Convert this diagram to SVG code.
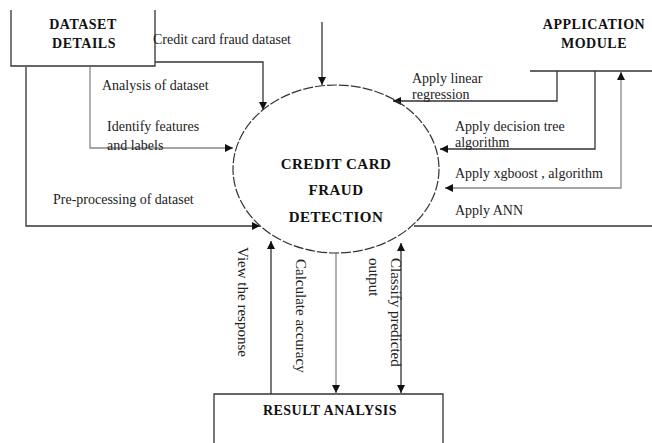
<svg xmlns="http://www.w3.org/2000/svg" width="652" height="443" viewBox="0 0 652 443">
<defs>
<marker id="ah" viewBox="0 0 10 10" refX="10" refY="5" markerWidth="9" markerHeight="8" markerUnits="userSpaceOnUse" orient="auto-start-reverse">
<path d="M0,0 L10,5 L0,10 Z" fill="#111"/>
</marker>
</defs>
<style>
.t{font-family:"Liberation Serif","Times New Roman",serif;font-size:14px;fill:#222}
.r{font-size:15px}
.h{font-family:"Liberation Serif","Times New Roman",serif;font-size:14px;font-weight:bold;fill:#111;text-anchor:middle;letter-spacing:0.5px}
.ln{fill:none;stroke:#333;stroke-width:1.3}
.lg{fill:none;stroke:#888;stroke-width:1.3}
.box{fill:#fff;stroke:#333;stroke-width:1.3}
</style>
<rect width="652" height="443" fill="#fff"/>

<g id="connectors">
<path class="ln" d="M155,62 H263 V110" marker-end="url(#ah)"/>
<path class="ln" d="M322,22 V85" marker-end="url(#ah)"/>
<path class="lg" d="M90,67 V148 H233" marker-end="url(#ah)"/>
<path class="ln" d="M26,67 V226 H260" marker-end="url(#ah)"/>
<path class="ln" d="M557,71 V101 H393" marker-end="url(#ah)"/>
<path class="ln" d="M595,71 V149 H440" marker-end="url(#ah)"/>
<path class="lg" d="M445,188 H621 V72" marker-start="url(#ah)" marker-end="url(#ah)"/>
<path class="ln" d="M414,226 H652"/>
<path class="ln" d="M271,394 V241" marker-end="url(#ah)"/>
<path class="lg" d="M336,253 V393" marker-end="url(#ah)"/>
<path class="ln" d="M401,243 V393" marker-start="url(#ah)" marker-end="url(#ah)"/>
</g>

<g id="dataset-details">
<path class="box" d="M11,10 V66 H155 V10"/>
<text class="h" x="83" y="29">DATASET</text>
<text class="h" x="84" y="48">DETAILS</text>
</g>

<g id="application-module">
<path class="ln" d="M530,71 H652"/>
<text class="h" x="594" y="29">APPLICATION</text>
<text class="h" x="594" y="48">MODULE</text>
</g>

<g id="credit-card-fraud-detection">
<ellipse cx="336" cy="169" rx="103" ry="84" fill="none" stroke="#333" stroke-width="1.2" stroke-dasharray="10 2"/>
<text class="h" x="336" y="169" style="font-size:15px">CREDIT CARD</text>
<text class="h" x="336" y="195" style="font-size:15px">FRAUD</text>
<text class="h" x="336" y="222" style="font-size:15px">DETECTION</text>
</g>

<g id="result-analysis">
<path class="box" d="M214,443 V394 H443 V443"/>
<text class="h" x="330" y="415">RESULT ANALYSIS</text>
</g>

<g id="labels">
<text class="t" x="153" y="44">Credit card fraud dataset</text>
<text class="t" x="102" y="90">Analysis of dataset</text>
<text class="t" x="107" y="131">Identify features</text>
<text class="t" x="107" y="150">and labels</text>
<text class="t" x="53" y="204">Pre-processing of dataset</text>
<text class="t" x="412" y="83">Apply linear</text>
<text class="t" x="412" y="99">regression</text>
<text class="t" x="455" y="131">Apply decision tree</text>
<text class="t" x="455" y="147">algorithm</text>
<text class="t" x="455" y="178">Apply xgboost , algorithm</text>
<text class="t" x="455" y="215">Apply ANN</text>
<text class="t r" transform="translate(238,247) rotate(90)">View the response</text>
<text class="t r" transform="translate(296,259) rotate(90)">Calculate accuracy</text>
<text class="t r" transform="translate(391,258) rotate(90)">Classify predicted</text>
<text class="t r" transform="translate(369,258) rotate(90)">output</text>
</g>
</svg>
